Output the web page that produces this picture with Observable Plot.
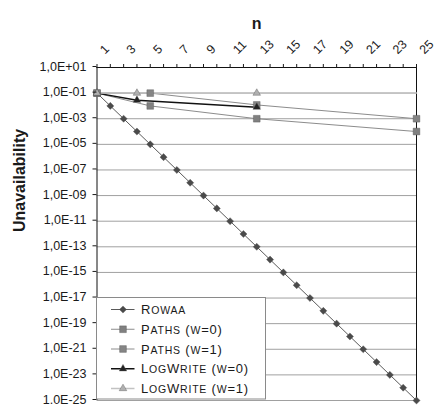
<!DOCTYPE html>
<html><head><meta charset="utf-8">
<script src="https://cdn.jsdelivr.net/npm/d3@7"></script>
<script src="https://cdn.jsdelivr.net/npm/@observablehq/plot@0.6"></script>
<style>
body{margin:0;background:#fff;}
#chart{position:relative;width:436px;height:405px;font-family:Arial,"Liberation Sans",sans-serif;}
#legend{position:absolute;left:96px;top:297px;}
</style></head><body><div id="chart"></div>
<script>
// ---- data ----
const xDomain = [1, 25];
const xTickMarks = [1,2,3,4,5,6,7,8,9,10,11,12,13,14,15,16,17,18,19,20,21,22,23,24,25];
const xTickLabels = ["1","3","5","7","9","11","13","15","17","19","21","23","25"];
const yDomain = [1e-25, 1e1];
const yTicks = [1e1,1e-1,1e-3,1e-5,1e-7,1e-9,1e-11,1e-13,1e-15,1e-17,1e-19,1e-21,1e-23,1e-25];
const yTickLabels = ["1,0E+01","1,0E-01","1,0E-03","1,0E-05","1,0E-07","1,0E-09","1,0E-11","1,0E-13","1,0E-15","1,0E-17","1,0E-19","1,0E-21","1,0E-23","1.0E-25"];

const seriesNames = ["Rowaa","Paths (w=0)","Paths (w=1)","LogWrite (w=0)","LogWrite (w=1)"];
const rowaaN = [1,2,3,4,5,6,7,8,9,10,11,12,13,14,15,16,17,18,19,20,21,22,23,24,25];
const rowaaU = [1e-1,1e-2,1e-3,1e-4,1e-5,1e-6,1e-7,1e-8,1e-9,1e-10,1e-11,1e-12,1e-13,1e-14,1e-15,1e-16,1e-17,1e-18,1e-19,1e-20,1e-21,1e-22,1e-23,1e-24,1e-25];
const paths0N = [1,5,13,25];
const paths0U = [1e-1,1e-2,1e-3,1e-4];
const paths1N = [1,5,13,25];
const paths1U = [1e-1,1e-1,1.2e-2,1e-3];
const log0N = [1,4,13];
const log0U = [1e-1,2.8e-2,8e-3];
const log1N = [1,4,13,25];
const log1U = [1e-1,1e-1,1e-1,1e-1];
const log1Marker = [true,true,true,false];

// ---- styles ----
const styles = {
  "Rowaa":          {line:"#5a5a5a", lw:1,   fill:"#4a4a4a", symbol:"diamond2", r:3.2},
  "Paths (w=0)":    {line:"#8c8c8c", lw:1,   fill:"#808080", symbol:"square",   r:3.8},
  "Paths (w=1)":    {line:"#8c8c8c", lw:1,   fill:"#858585", symbol:"square",   r:3.8},
  "LogWrite (w=0)": {line:"#111111", lw:1.5, fill:"#222222", symbol:"triangle", r:2.8},
  "LogWrite (w=1)": {line:"#c2c2c2", lw:1.5, fill:"#b0b0b0", symbol:"triangle", r:2.8}
};

function mk(name, ns, us, vis) { return ns.map((n,i)=>({series:name, n, u:us[i], show: vis ? vis[i] : true})); }
const data = {
  "Rowaa": mk("Rowaa", rowaaN, rowaaU),
  "Paths (w=0)": mk("Paths (w=0)", paths0N, paths0U),
  "Paths (w=1)": mk("Paths (w=1)", paths1N, paths1U),
  "LogWrite (w=0)": mk("LogWrite (w=0)", log0N, log0U),
  "LogWrite (w=1)": mk("LogWrite (w=1)", log1N, log1U, log1Marker)
};
const yLabelMap = new Map(yTicks.map((t,i)=>[t, yTickLabels[i]]));

const drawOrder = ["Rowaa","Paths (w=0)","Paths (w=1)","LogWrite (w=0)","LogWrite (w=1)"];
const lineMarks = drawOrder.map(s => Plot.line(data[s], {x:"n", y:"u", stroke:styles[s].line, strokeWidth:styles[s].lw}));
const dotMarks = drawOrder.map(s => Plot.dot(data[s].filter(d=>d.show), {x:"n", y:"u", symbol:()=>styles[s].symbol, r:styles[s].r, fill:styles[s].fill, stroke:"#555", strokeWidth:0.4}));

const plot = Plot.plot({
  width: 436, height: 405,
  marginTop: 67, marginBottom: 5, marginLeft: 96.5, marginRight: 20,
  style: {background:"#fff", color:"#1a1a1a", fontFamily:'Arial,"Liberation Sans",sans-serif', fontSize:"12.5px"},
  x: {type:"linear", domain: xDomain},
  y: {type:"log", domain: yDomain},
  symbol: {type:"identity"},
  marks: [
    Plot.gridY(yTicks, {stroke:"#a0a0a0", strokeOpacity:1}),
    Plot.ruleY([yDomain[1]], {stroke:"#111"}),
    Plot.ruleX(xDomain, {stroke:"#111"}),
    ...lineMarks,
    ...dotMarks,
    Plot.axisY({ticks: yTicks, tickSize: 4, tickPadding: 6.5, tickFormat: d => yLabelMap.get(d), fontSize: 12.5, label: null, dy: -1}),
    Plot.axisX({anchor:"top", ticks: xTickMarks, tickSize: 4, tickFormat: () => "", label: null}),
    Plot.text(xTickLabels, {x: d => +d + 0.5, text: d => d, frameAnchor:"top", dy:-15.5, dx:-1.5, rotate:-45, textAnchor:"start", lineAnchor:"middle", fontSize:12.5}),
    Plot.text(["n"], {frameAnchor:"top", dy:-50, fontWeight:"bold", fontSize:16}),
    Plot.text(["Unavailability"], {frameAnchor:"left", dx:-77, dy:-2, rotate:-90, fontWeight:"bold", fontSize:16})
  ]
});
const chart = document.getElementById("chart");
chart.appendChild(plot);

// ---- legend ----
const lw = 170, lh = 102.5;
const leg = d3.select(chart).append("svg").attr("id","legend").attr("width", lw+1).attr("height", lh+1);
leg.append("rect").attr("x",0.5).attr("y",0.5).attr("width",lw-1).attr("height",lh-1).attr("fill","#fff").attr("stroke","#8a8a8a");
const symMap = {diamond2:d3.symbolDiamond2, square:d3.symbolSquare, triangle:d3.symbolTriangle};
function smallCaps(textSel, str, big, small) {
  const runs = str.match(/[a-z]+|[^a-z]+/g) || [];
  runs.forEach(r => {
    const lower = /^[a-z]+$/.test(r);
    textSel.append("tspan").attr("font-size", (lower ? small : big) + "px").text(lower ? r.toUpperCase() : r);
  });
}
seriesNames.forEach((s,i) => {
  const st = styles[s];
  const y = 12.5 + i*19.75;
  const g = leg.append("g");
  g.append("line").attr("x1",15).attr("x2",38.5).attr("y1",y).attr("y2",y).attr("stroke",st.line).attr("stroke-width",st.lw);
  g.append("path").attr("d", d3.symbol(symMap[st.symbol], Math.PI*st.r*st.r)()).attr("transform",`translate(27,${y})`).attr("fill",st.fill).attr("stroke","#555").attr("stroke-width",0.4);
  const t = g.append("text").attr("x",45).attr("y",y+4.5).attr("font-family",'Arial,"Liberation Sans",sans-serif').attr("fill","#1a1a1a").attr("letter-spacing","0.8px");
  smallCaps(t, s, 13, 10.5);
});
</script></body></html>
